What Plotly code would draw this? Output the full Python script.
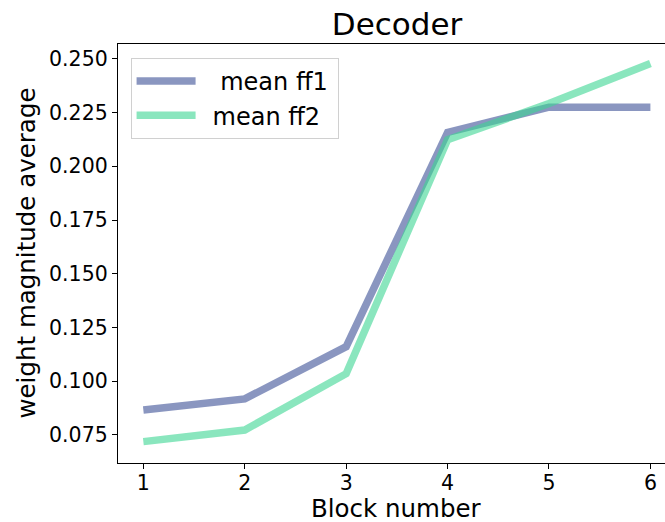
import plotly.graph_objects as go

# Feed-forward weight magnitudes per decoder block
blocks = [1, 2, 3, 4, 5, 6]
mean_ff1 = [0.0866, 0.0918, 0.1161, 0.2158, 0.2275, 0.2275]
mean_ff2 = [0.0719, 0.0773, 0.1035, 0.2124, 0.2292, 0.2478]

y_ticks = [0.075, 0.100, 0.125, 0.150, 0.175, 0.200, 0.225, 0.250]
y_tick_text = [f"{v:.3f}" for v in y_ticks]

FONT = "DejaVu Sans"
W, H = 665, 522

fig = go.Figure()
fig.add_trace(go.Scatter(
    x=blocks, y=mean_ff1, mode="lines", name="\u2002\u00a0mean ff1\u2009",
    line=dict(color="rgba(60,80,150,0.6)", width=7.5),
))
fig.add_trace(go.Scatter(
    x=blocks, y=mean_ff2, mode="lines", name="\u2002mean ff2",
    line=dict(color="rgba(60,213,147,0.6)", width=7.5),
))

# Axis titles, centred on the full axes box
fig.add_annotation(text="Block number", xref="paper", yref="paper",
                   x=0.5 + 5 / 547, y=-62 / 419, xanchor="center", yanchor="bottom",
                   showarrow=False, font=dict(size=24.5, family=FONT, color="black"))
fig.add_annotation(text="weight magnitude average", xref="paper", yref="paper",
                   x=-92 / 547, y=0.5, xanchor="center", yanchor="middle", textangle=-90,
                   showarrow=False, font=dict(size=24.5, family=FONT, color="black"))

fig.update_layout(
    width=W, height=H,
    margin=dict(l=118, r=0, t=44, b=59),
    paper_bgcolor="white", plot_bgcolor="white",
    font=dict(family=FONT, color="black"),
    title=dict(text="Decoder", font=dict(size=31, family=FONT, color="black"),
               x=397 / W, xref="container", xanchor="center",
               y=1 - 24 / H, yref="container", yanchor="middle"),
    showlegend=True,
    legend=dict(x=0.023, y=0.967, xanchor="left", yanchor="top",
                bgcolor="white", bordercolor="#d0d0d0", borderwidth=1,
                font=dict(size=24, family=FONT, color="black"),
                itemwidth=59, tracegroupgap=0),
)
fig.update_xaxes(
    range=[0.75, 6.144], tickvals=blocks, ticktext=[str(b) for b in blocks],
    automargin=False,
    showgrid=False, zeroline=False,
    showline=True, linecolor="black", linewidth=1.3, mirror=True,
    ticks="outside", ticklen=5, tickwidth=1.2, tickcolor="black",
    ticklabelstandoff=-4,
    tickfont=dict(size=20.5, family=FONT, color="black"),
)
fig.update_yaxes(
    range=[0.06196, 0.2569], tickvals=y_ticks, ticktext=y_tick_text,
    automargin=False,
    showgrid=False, zeroline=False,
    showline=True, linecolor="black", linewidth=1.3, mirror=False,
    ticks="outside", ticklen=5, tickwidth=1.2, tickcolor="black",
    tickfont=dict(size=20.5, family=FONT, color="black"),
)

fig.write_html("out.html")
